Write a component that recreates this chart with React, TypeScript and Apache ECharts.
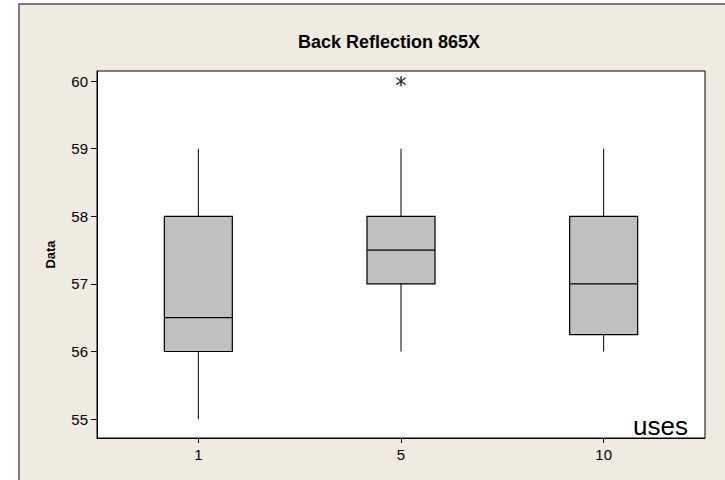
import React, { useEffect, useRef } from "react";
import * as echarts from "echarts";

const categories = ["1", "5", "10"];
// [min whisker, Q1, median, Q3, max whisker]
const boxValues = [
  [55, 56, 56.5, 58, 59],
  [56, 57, 57.5, 58, 59],
  [56, 56.25, 57, 58, 59],
];
const outliers = [["5", 60]];
const yTicks = [55, 56, 57, 58, 59, 60];

const FONT = "'Liberation Sans', Arial, sans-serif";

export default function App() {
  const ref = useRef<HTMLDivElement>(null);
  useEffect(() => {
    if (!ref.current) return;
    const chart = echarts.init(ref.current, null, { renderer: "svg" });
    const boxData = boxValues.map((v, i) => [i, ...v]);
    chart.setOption({
      animation: false,
      backgroundColor: "#ffffff",
      title: {
        text: "Back Reflection 865X",
        left: 384,
        top: 28,
        textAlign: "center",
        textStyle: { fontFamily: FONT, fontSize: 18, fontWeight: "bold", color: "#000" },
      },
      graphic: [
        {
          type: "rect",
          z: -10,
          silent: true,
          shape: { x: 19, y: 4, width: 720, height: 490 },
          style: { fill: "#EFEBE1", stroke: "#555555", lineWidth: 1.5 },
        },
        {
          type: "text",
          z: 100,
          x: 633,
          y: 439,
          style: {
            text: "uses",
            fontFamily: FONT,
            fontSize: 26,
            fill: "#000",
            verticalAlign: "bottom",
          },
        },
      ],
      grid: {
        left: 97,
        top: 71,
        width: 608,
        height: 367,
        show: true,
        backgroundColor: "#ffffff",
        borderColor: "#000",
        borderWidth: 1,
      },
      xAxis: {
        type: "category",
        data: categories,
        boundaryGap: true,
        axisLine: { show: true, lineStyle: { color: "#000" } },
        axisTick: { show: true, alignWithLabel: true, length: 5, lineStyle: { color: "#000" } },
        axisLabel: { color: "#000", fontFamily: FONT, fontSize: 15, margin: 9 },
        splitLine: { show: false },
      },
      yAxis: {
        type: "value",
        min: 54.72,
        max: 60.15,
        name: "Data",
        nameLocation: "middle",
        nameGap: 40,
        nameTextStyle: { fontFamily: FONT, fontSize: 13, fontWeight: "bold", color: "#000" },
        axisLine: { show: true, lineStyle: { color: "#000" } },
        axisTick: { show: true, length: 6, customValues: yTicks, lineStyle: { color: "#000" } },
        axisLabel: { color: "#000", fontFamily: FONT, fontSize: 15, margin: 9, customValues: yTicks },
        splitLine: { show: false },
      },
      series: [
        {
          type: "custom",
          data: boxData,
          encode: { x: 0, y: [1, 2, 3, 4, 5] },
          renderItem: (params: any, api: any) => {
            const idx = api.value(0);
            const lo = api.coord([idx, api.value(1)]);
            const q1 = api.coord([idx, api.value(2)]);
            const med = api.coord([idx, api.value(3)]);
            const q3 = api.coord([idx, api.value(4)]);
            const hi = api.coord([idx, api.value(5)]);
            const half = 34;
            const cx = lo[0];
            const lineStyle = { stroke: "#000", lineWidth: 1, fill: null };
            return {
              type: "group",
              children: [
                { type: "line", shape: { x1: cx, y1: lo[1], x2: cx, y2: q1[1] }, style: lineStyle },
                { type: "line", shape: { x1: cx, y1: q3[1], x2: cx, y2: hi[1] }, style: lineStyle },
                {
                  type: "rect",
                  shape: { x: cx - half, y: q3[1], width: half * 2, height: q1[1] - q3[1] },
                  style: { fill: "#C0C0C0", stroke: "#000", lineWidth: 1.2 },
                },
                {
                  type: "line",
                  shape: { x1: cx - half, y1: med[1], x2: cx + half, y2: med[1] },
                  style: { stroke: "#000", lineWidth: 1.2 },
                },
              ],
            };
          },
        },
        {
          type: "scatter",
          data: outliers,
          symbol:
            "path://M4.3,0 L5.7,0 L5.7,10 L4.3,10 Z M0.3,2.2 L1,1 L9.7,7.8 L9,9 Z M0.3,7.8 L9,1 L9.7,2.2 L1,9 Z",
          symbolSize: 10,
          itemStyle: { color: "#000" },
        },
      ],
    });
    return () => chart.dispose();
  }, []);
  return (
    <div
      ref={ref}
      style={{ position: "fixed", left: 0, top: 0, width: 725, height: 480 }}
    />
  );
}
